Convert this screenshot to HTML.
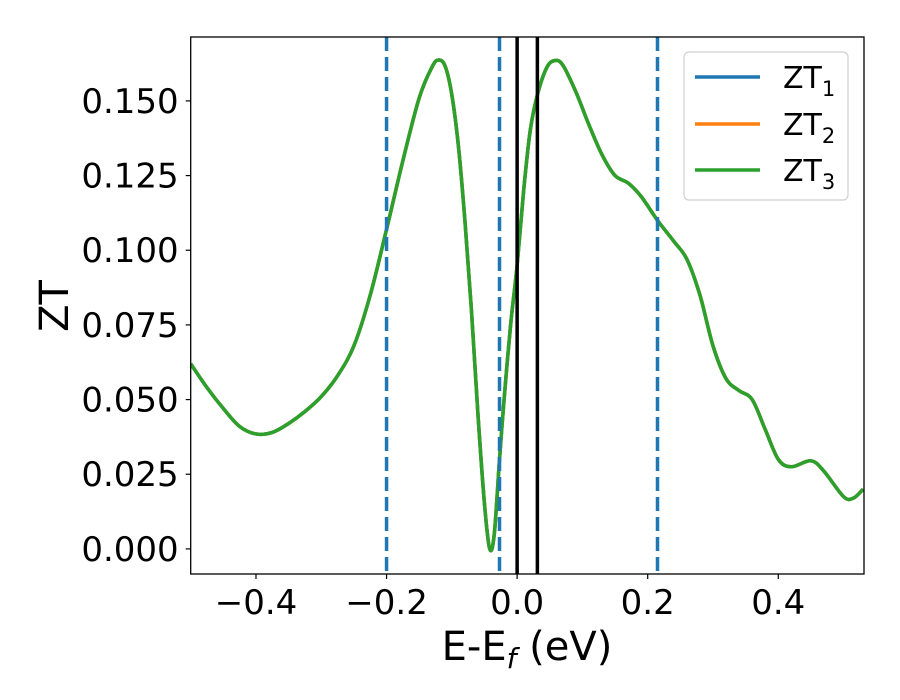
<!DOCTYPE html>
<html><head><meta charset="utf-8"><style>
html,body{margin:0;padding:0;background:#fff;}
svg{display:block;font-family:"DejaVu Sans","Liberation Sans",sans-serif;}
</style></head><body>
<svg id="chart" width="900" height="700" xmlns="http://www.w3.org/2000/svg">
<g id="plot"></g>
<g id="axes"></g>
<text x="527" y="660" font-size="40" text-anchor="middle">E-E<tspan font-size="28" dy="8" font-style="italic">f</tspan><tspan dy="-8"> (eV)</tspan></text>
<text transform="translate(68,306) rotate(-90)" font-size="40" text-anchor="middle">ZT</text>
<g>
<rect x="684" y="52" width="164" height="148" rx="5" fill="#fff" fill-opacity="0.8" stroke="#d0d0d0" stroke-width="1.2"/>
<g><line x1="695" x2="760" y1="77" y2="77" stroke="#1f77b4" stroke-width="3.5"/><text x="783" y="88" font-size="30">ZT<tspan font-size="21" dy="8">1</tspan></text></g>
<g><line x1="695" x2="760" y1="124" y2="124" stroke="#ff7f0e" stroke-width="3.5"/><text x="783" y="135" font-size="30">ZT<tspan font-size="21" dy="8">2</tspan></text></g>
<g><line x1="695" x2="760" y1="170" y2="170" stroke="#2ca02c" stroke-width="3.5"/><text x="783" y="181" font-size="30">ZT<tspan font-size="21" dy="8">3</tspan></text></g>
</g>
</svg>
<script>
const xTicks=[-0.4,-0.2,0.0,0.2,0.4];
const xTickLabels=["\u22120.4","\u22120.2","0.0","0.2","0.4"];
const yTicks=[0,0.025,0.05,0.075,0.1,0.125,0.15];
const yTickLabels=["0.000","0.025","0.050","0.075","0.100","0.125","0.150"];
const dashedLines=[-0.2,-0.027,0.215];
const solidLines=[0.0,0.031];
const energy=[-0.5,-0.475,-0.45,-0.425,-0.4,-0.375,-0.35,-0.325,-0.3,-0.275,-0.25,-0.225,-0.2,-0.175,-0.15,-0.13,-0.12,-0.11,-0.1,-0.09,-0.08,-0.07,-0.06,-0.05,-0.042,-0.035,-0.027,-0.02,-0.01,0,0.01,0.02,0.031,0.045,0.057,0.07,0.09,0.11,0.13,0.15,0.17,0.19,0.215,0.24,0.26,0.28,0.3,0.32,0.34,0.36,0.38,0.4,0.42,0.45,0.47,0.5,0.515,0.53];
const zt3=[0.062,0.054,0.047,0.041,0.0385,0.039,0.042,0.046,0.051,0.058,0.068,0.085,0.107,0.130,0.151,0.1615,0.1637,0.1615,0.152,0.135,0.110,0.080,0.045,0.015,0.000,0.005,0.030,0.050,0.075,0.095,0.120,0.140,0.152,0.161,0.1635,0.162,0.153,0.142,0.132,0.125,0.1225,0.118,0.110,0.103,0.097,0.085,0.068,0.057,0.053,0.050,0.040,0.030,0.0275,0.0295,0.026,0.0175,0.017,0.020];
const zt1=zt3.slice();
const zt2=zt3.slice();

const L=190.7,R=864,T=37,B=574;
const xMin=-0.5,xMax=0.5313,yMin=-0.0084,yMax=0.1714;
const sx=v=>L+(v-xMin)/(xMax-xMin)*(R-L);
const sy=v=>B-(v-yMin)/(yMax-yMin)*(B-T);
const NS="http://www.w3.org/2000/svg";
const svg=document.getElementById('chart');
function mk(tag,attrs,parent){const e=document.createElementNS(NS,tag);for(const k in attrs)e.setAttribute(k,attrs[k]);(parent||svg).appendChild(e);return e;}
const plot=document.getElementById('plot');
const axes=document.getElementById('axes');
const defs=mk('defs',{});
const clip=mk('clipPath',{id:'cp'},defs);mk('rect',{x:L,y:T,width:R-L,height:B-T},clip);

function pathFrom(xs,ys){
  const p=xs.map((x,i)=>[sx(x),sy(ys[i])]);
  let d=`M${p[0][0]},${p[0][1]}`;
  for(let i=0;i<p.length-1;i++){
    const p0=p[Math.max(0,i-1)],p1=p[i],p2=p[i+1],p3=p[Math.min(p.length-1,i+2)];
    const c1=[p1[0]+(p2[0]-p0[0])/6,p1[1]+(p2[1]-p0[1])/6];
    const c2=[p2[0]-(p3[0]-p1[0])/6,p2[1]-(p3[1]-p1[1])/6];
    d+=`C${c1[0]},${c1[1]} ${c2[0]},${c2[1]} ${p2[0]},${p2[1]}`;
  }
  return d;
}
const series=[[zt1,'#1f77b4','zt1-line'],[zt2,'#ff7f0e','zt2-line'],[zt3,'#2ca02c','zt3-line']];
series.forEach(s=>{
  const e=mk('path',{d:pathFrom(energy,s[0]),fill:'none',stroke:s[1],'stroke-width':3.5,'clip-path':'url(#cp)'},plot);
  
  
});
dashedLines.forEach(v=>{
  const e=mk('line',{x1:sx(v),x2:sx(v),y1:T,y2:B,stroke:'#1f77b4','stroke-width':3.5,'stroke-dasharray':'14,6'},plot);
  
  
});
solidLines.forEach(v=>{
  const e=mk('line',{x1:sx(v),x2:sx(v),y1:T,y2:B,stroke:'#000','stroke-width':3.5},plot);
  
  
});
const frame=mk('rect',{x:L,y:T,width:R-L,height:B-T,fill:'none',stroke:'#000','stroke-width':1.3},axes);


xTicks.forEach((v,i)=>{
  const t=mk('line',{x1:sx(v),x2:sx(v),y1:B,y2:B+5,stroke:'#000','stroke-width':1.2},axes);
  
  
  const tx=mk('text',{x:sx(v),y:B+40,'font-size':34,'text-anchor':'middle',fill:'#000'},axes);
  tx.textContent=xTickLabels[i];
  
  
});
yTicks.forEach((v,i)=>{
  const t=mk('line',{x1:L-5,x2:L,y1:sy(v),y2:sy(v),stroke:'#000','stroke-width':1.2},axes);
  
  
  const tx=mk('text',{x:L-12,y:sy(v)+12,'font-size':34,'text-anchor':'end',fill:'#000'},axes);
  tx.textContent=yTickLabels[i];
  
  
});
</script>
</body></html>
